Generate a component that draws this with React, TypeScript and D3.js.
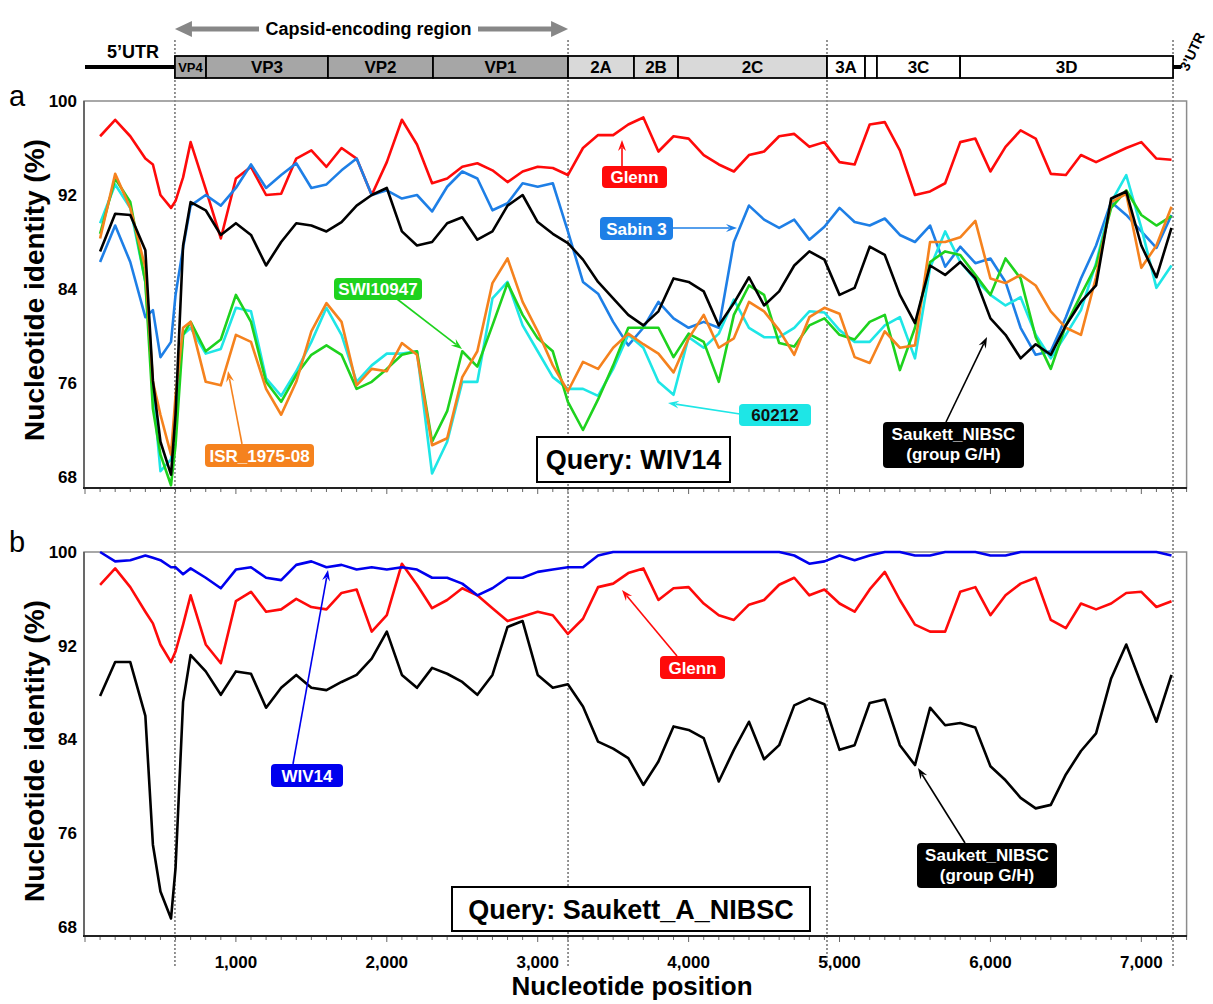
import React from 'react';
import * as d3 from 'd3';

// ---------- DATA ----------
const positions = [100, 200, 300, 400, 450, 500, 570, 600, 650, 700,
  800, 900, 1000, 1100, 1200, 1300, 1400, 1500, 1600, 1700, 1800, 1900, 2000, 2100, 2200, 2300, 2400,
  2500, 2600, 2700, 2800, 2900, 3000, 3100, 3200, 3300, 3400, 3500, 3600, 3700, 3800, 3900, 4000,
  4100, 4200, 4300, 4400, 4500, 4600, 4700, 4800, 4900, 5000, 5100, 5200, 5300, 5400, 5500, 5600,
  5700, 5800, 5900, 6000, 6100, 6200, 6300, 6400, 6500, 6600, 6700, 6800, 6900, 7000, 7100, 7200];

// Panel a (query WIV14)
const glennA = [97.0, 98.4, 97.0, 95.1, 94.6, 92.0, 90.9, 91.5, 93.5, 96.5,
  92.5, 88.3, 93.4, 94.4, 92.0, 92.1, 95.1, 95.8, 94.4, 96.0, 95.1, 92.0, 94.8, 98.4, 96.3, 93.0, 93.4,
  94.4, 94.7, 94.1, 93.1, 94.0, 94.4, 94.3, 93.7, 96.0, 97.1, 97.1, 98.0, 98.6, 95.7, 97.0, 96.8,
  95.4, 94.6, 94.0, 95.4, 95.7, 97.0, 97.2, 96.1, 96.5, 94.8, 94.6, 98.0, 98.2, 95.8, 92.0, 92.3,
  93.0, 96.5, 96.8, 94.0, 96.1, 97.5, 96.8, 93.8, 93.7, 95.4, 94.8, 95.4, 96.0, 96.5, 95.1, 95.0];
const sabin3A = [86.3, 89.4, 86.3, 81.6, 82.2, 78.2, 79.5, 83.5, 87.5, 91.1,
  92.0, 91.1, 92.6, 94.6, 92.6, 93.7, 94.7, 92.6, 92.9, 94.1, 95.1, 92.0, 92.4, 91.7, 92.0, 90.6, 92.7,
  94.0, 93.4, 90.7, 91.3, 93.0, 92.7, 93.0, 88.9, 84.6, 83.6, 81.2, 79.2, 80.7, 82.9, 81.5, 80.7,
  81.2, 80.7, 88.0, 91.1, 89.9, 89.2, 89.9, 88.2, 89.3, 90.9, 89.7, 89.4, 90.0, 88.6, 88.0, 89.4,
  85.9, 87.6, 86.2, 86.6, 84.6, 80.7, 78.4, 78.7, 81.6, 84.9, 87.7, 91.4, 90.3, 88.9, 87.5, 90.3];
const saukettA = [87.2, 90.4, 90.3, 87.3, 76.2, 71.0, 68.2, 73.3, 87.7, 91.4,
  90.7, 88.6, 89.6, 88.6, 86.0, 88.0, 89.6, 89.4, 88.9, 89.7, 91.1, 92.0, 92.6, 88.9, 87.7, 88.0, 89.6,
  90.1, 88.2, 88.9, 91.1, 92.0, 89.7, 88.7, 87.9, 86.5, 84.6, 83.2, 81.8, 80.9, 82.1, 84.9, 84.6,
  83.8, 80.9, 82.8, 85.0, 82.6, 83.8, 86.0, 87.2, 86.5, 83.5, 84.1, 87.6, 86.9, 83.5, 81.1, 86.0,
  85.2, 86.3, 84.9, 81.5, 80.1, 78.1, 79.3, 78.4, 80.9, 82.9, 84.3, 91.7, 92.3, 87.7, 85.0, 89.2];
const swi10947A = [88.7, 93.4, 91.4, 84.6, 73.8, 69.9, 67.3, 70.7, 80.1, 81.2,
  78.7, 79.7, 83.5, 81.2, 76.1, 74.4, 76.7, 78.4, 79.2, 78.4, 75.5, 76.1, 77.2, 78.4, 78.7, 71.0, 73.6,
  78.7, 77.4, 80.9, 84.5, 81.8, 79.8, 78.7, 74.4, 72.0, 74.6, 77.5, 80.7, 80.7, 80.7, 78.2, 80.2,
  79.5, 76.1, 81.8, 84.3, 83.5, 79.4, 79.1, 80.9, 81.5, 80.1, 79.7, 81.2, 81.8, 77.1, 80.7, 86.3,
  87.2, 86.9, 85.2, 83.5, 86.6, 84.9, 79.9, 77.2, 80.9, 83.5, 86.0, 90.9, 92.4, 90.3, 89.4, 90.2];
const isrA = [88.3, 93.8, 90.9, 85.8, 76.1, 73.3, 69.9, 74.9, 80.7, 81.2,
  76.1, 75.8, 80.1, 79.5, 75.5, 73.3, 76.1, 80.4, 82.8, 81.2, 75.8, 77.2, 77.0, 79.4, 78.4, 70.7, 71.3,
  76.5, 78.7, 84.5, 86.6, 82.9, 80.4, 77.5, 75.3, 77.8, 77.2, 79.0, 80.2, 79.3, 78.5, 76.9, 79.8,
  81.8, 79.0, 79.8, 82.9, 82.1, 80.5, 78.4, 81.6, 82.4, 81.9, 78.2, 77.7, 80.4, 79.0, 79.2, 88.0,
  88.0, 88.4, 89.8, 84.9, 84.5, 85.2, 84.3, 82.1, 80.7, 80.1, 85.0, 91.4, 92.1, 85.8, 87.7, 91.0];
const s60212A = [89.6, 92.9, 90.9, 84.6, 75.5, 68.5, 69.5, 73.3, 80.1, 80.7,
  78.5, 78.9, 82.4, 82.1, 76.4, 74.9, 77.0, 79.5, 82.4, 80.1, 76.1, 77.5, 78.5, 78.5, 78.7, 68.3, 71.0,
  76.1, 76.1, 83.2, 84.6, 80.9, 78.7, 76.5, 75.5, 75.5, 74.9, 77.2, 80.1, 79.0, 76.1, 75.0, 79.9,
  79.0, 80.2, 83.1, 80.7, 79.9, 79.9, 80.7, 82.1, 82.0, 80.5, 79.5, 79.5, 80.9, 81.6, 78.1, 85.8,
  88.9, 86.3, 84.8, 83.5, 82.6, 83.3, 80.1, 78.1, 80.1, 82.2, 86.2, 91.4, 93.7, 89.2, 84.1, 86.0];

// Panel b (query Saukett_A_NIBSC)
const wiv14B = [100.0, 99.2, 99.3, 99.7, 99.5, 99.3, 98.7, 98.7, 98.1, 98.6,
  97.8, 96.9, 98.5, 98.7, 97.8, 97.6, 98.9, 99.2, 98.7, 98.9, 98.5, 98.7, 98.5, 98.7, 98.5, 97.8, 97.8,
  97.3, 96.3, 96.9, 97.8, 97.8, 98.3, 98.5, 98.7, 98.7, 99.7, 100, 100, 100, 100, 100, 100,
  100, 100, 100, 100, 100, 100, 99.7, 99.0, 99.2, 99.7, 99.3, 99.7, 100, 100, 99.7, 99.7,
  100, 100, 100, 99.7, 99.7, 100, 100, 100, 100, 100, 100, 100, 100, 100, 100, 99.7];
const glennB = [97.2, 98.6, 97.0, 94.9, 93.9, 92.1, 90.6, 91.5, 93.8, 96.3,
  92.1, 90.5, 95.8, 96.6, 94.9, 95.1, 96.0, 95.3, 95.1, 96.5, 96.8, 93.2, 94.6, 99.0, 97.2, 95.2, 95.9,
  96.9, 96.3, 95.2, 94.1, 94.5, 94.9, 94.6, 93.0, 94.3, 97.0, 97.3, 98.2, 98.6, 95.9, 96.9, 97.0,
  95.6, 94.6, 94.2, 95.5, 95.9, 97.2, 97.8, 96.3, 96.8, 95.6, 94.9, 96.8, 98.3, 95.9, 93.8, 93.2,
  93.2, 96.6, 97.0, 94.6, 96.3, 97.3, 97.8, 94.2, 93.5, 95.6, 95.1, 95.6, 96.5, 96.6, 95.3, 95.8];
const saukettB = [87.7, 90.6, 90.6, 86.0, 75.0, 71.0, 68.7, 73.0, 87.2, 91.2,
  89.8, 87.8, 89.8, 89.6, 86.7, 88.4, 89.5, 88.4, 88.2, 88.9, 89.5, 90.9, 93.2, 89.5, 88.4, 90.1, 89.6,
  88.9, 87.8, 89.5, 93.6, 94.1, 89.5, 88.4, 88.7, 86.8, 83.8, 83.2, 82.4, 80.1, 82.1, 85.1, 84.8,
  84.1, 80.4, 83.1, 85.5, 82.3, 83.5, 86.9, 87.5, 87.0, 83.1, 83.5, 87.1, 87.4, 83.5, 81.8, 86.7,
  85.2, 85.4, 85.0, 81.7, 80.5, 79.0, 78.1, 78.4, 81.0, 83.0, 84.5, 89.2, 92.1, 88.7, 85.5, 89.5];

// Genome map
const regionNames = ['VP4', 'VP3', 'VP2', 'VP1', '2A', '2B', '2C', '3A', '', '3C', '3D'];
const regionBounds = [596, 802, 1610, 2306, 3201, 3638, 3930, 4917, 5169, 5248, 5799, 7210];
const regionGroup = [0, 0, 0, 0, 1, 1, 1, 2, 2, 2, 2];
const dividerPositions = [596, 3201, 4917, 7210];

const yTicks = [68, 76, 84, 92, 100];
const xTickLabels = [1000, 2000, 3000, 4000, 5000, 6000, 7000];

// ---------- LAYOUT ----------
const W = 1213, H = 1004;
const FONT = '"Liberation Sans", Arial, Helvetica, sans-serif';
const x = d3.scaleLinear().domain([0, 7300]).range([85, 1186.6]);
const yA = d3.scaleLinear().domain([67, 100]).range([488.75, 101]);
const yB = d3.scaleLinear().domain([67.2, 100]).range([936, 552]);

const C = {
  red: '#ff0a0a', sabin: '#1e7fe6', black: '#000000', green: '#1ed21e',
  orange: '#f5821e', cyan: '#1ee6e6', wiv: '#0000ee'
};

function mkLine(y: d3.ScaleLinear<number, number>) {
  return d3.line<number>().x((_, i) => x(positions[i])).y((d) => y(d));
}

function Label({ x0, y0, w, h, fill, lines, color = '#fff' }: any) {
  return (
    <g>
      <rect x={x0} y={y0} width={w} height={h} rx={4} fill={fill} />
      {lines.map((t: string, i: number) => (
        <text key={i} x={x0 + w / 2} y={y0 + (lines.length === 1 ? h / 2 + 6 : 17.5 + i * 20)}
          textAnchor="middle" fontFamily={FONT} fontWeight="bold" fontSize={17} fill={color}>{t}</text>
      ))}
    </g>
  );
}

function Arrow({ x1, y1, x2, y2, color }: any) {
  const ang = Math.atan2(y2 - y1, x2 - x1);
  const L = 11, Wd = 4;
  const bx = x2 - L * Math.cos(ang), by = y2 - L * Math.sin(ang);
  const px = -Math.sin(ang) * Wd, py = Math.cos(ang) * Wd;
  return (
    <g>
      <line x1={x1} y1={y1} x2={bx + L * 0.3 * Math.cos(ang)} y2={by + L * 0.3 * Math.sin(ang)} stroke={color} strokeWidth={1.6} />
      <path d={`M${x2},${y2} L${bx + px},${by + py} L${bx + 0.35 * L * Math.cos(ang)},${by + 0.35 * L * Math.sin(ang)} L${bx - px},${by - py} Z`} fill={color} />
    </g>
  );
}

function Panel({ y, top, bottom, series, showLabels }: any) {
  const line = mkLine(y);
  const minor = d3.range(0, 7301, 100);
  return (
    <g>
      <rect x={84} y={top} width={1186.6 - 84} height={bottom - top} fill="none" stroke="#8c8c8c" strokeWidth={1.5} />
      {series.map((s: any, i: number) => (
        <path key={i} d={line(s.values) || ''} fill="none" stroke={s.color} strokeWidth={2.6} strokeLinejoin="round" />
      ))}
      <line x1={84} x2={84} y1={top} y2={bottom} stroke="#555" strokeWidth={1.5} />
      <line x1={83} x2={1187} y1={bottom} y2={bottom} stroke="#222" strokeWidth={2} />
      {minor.map((v) => (
        <line key={v} x1={x(v)} x2={x(v)} y1={bottom + 1} y2={bottom + (v % 1000 === 0 ? 6 : 4)} stroke="#666" strokeWidth={1} />
      ))}
      {yTicks.map((t) => (
        <text key={t} x={77} y={y(t) + 6} textAnchor="end" fontFamily={FONT} fontWeight="bold" fontSize={17} fill="#000">{t}</text>
      ))}
      {showLabels && xTickLabels.map((t) => (
        <text key={t} x={x(t)} y={968} textAnchor="middle" fontFamily={FONT} fontWeight="bold" fontSize={17} fill="#000">{d3.format(',')(t)}</text>
      ))}
    </g>
  );
}

export default function App() {
  const regionFill = ['#a6a6a6', '#d9d9d9', '#ffffff'];
  const barTop = 56, barH = 22;
  return (
    <svg width={W} height={H} viewBox={`0 0 ${W} ${H}`} style={{ position: 'absolute', left: 0, top: 0, background: '#fff' }}>
      <rect x={0} y={0} width={W} height={H} fill="#fff" />

      {/* dotted region dividers */}
      {dividerPositions.map((p) => (
        <line key={p} x1={x(p)} x2={x(p)} y1={40} y2={966} stroke="#7a7a7a" strokeWidth={1.6} strokeDasharray="2,2" />
      ))}

      {/* capsid arrow */}
      <line x1={x(596) + 14} x2={x(3201) - 14} y1={29} y2={29} stroke="#878787" strokeWidth={5} />
      <path d={`M${x(596)},29 L${x(596) + 17},21 L${x(596) + 17},37 Z`} fill="#878787" />
      <path d={`M${x(3201)},29 L${x(3201) - 17},21 L${x(3201) - 17},37 Z`} fill="#878787" />
      <rect x={259} y={17} width={219} height={24} fill="#fff" />
      <text x={368.5} y={35} textAnchor="middle" fontFamily={FONT} fontWeight="bold" fontSize={18}>Capsid-encoding region</text>

      {/* genome map */}
      <line x1={85} x2={x(596)} y1={barTop + barH / 2} y2={barTop + barH / 2} stroke="#000" strokeWidth={4} />
      <text x={133} y={58} textAnchor="middle" fontFamily={FONT} fontWeight="bold" fontSize={18}>5’UTR</text>
      {regionNames.map((n, i) => {
        const x0 = x(regionBounds[i]), x1 = x(regionBounds[i + 1]);
        return (
          <g key={i}>
            <rect x={x0} y={barTop} width={x1 - x0} height={barH} fill={regionFill[regionGroup[i]]} stroke="#000" strokeWidth={1.8} />
            {n && <text x={(x0 + x1) / 2} y={barTop + barH / 2 + (n === 'VP4' ? 5 : 6)} textAnchor="middle" fontFamily={FONT} fontWeight="bold" fontSize={n === 'VP4' ? 13 : 17}>{n}</text>}
          </g>
        );
      })}
      <line x1={x(7210)} x2={x(7210) + 8} y1={barTop + barH / 2} y2={barTop + barH / 2} stroke="#000" strokeWidth={4} />
      <text transform={`translate(1188,72) rotate(-65)`} fontFamily={FONT} fontWeight="bold" fontSize={14}>3’UTR</text>

      {/* panel letters */}
      <text x={9} y={106} fontFamily={FONT} fontSize={29}>a</text>
      <text x={9} y={552} fontFamily={FONT} fontSize={29}>b</text>

      {/* axis titles */}
      <text transform="translate(44,290) rotate(-90)" textAnchor="middle" fontFamily={FONT} fontWeight="bold" fontSize={28}>Nucleotide identity (%)</text>
      <text transform="translate(44,751) rotate(-90)" textAnchor="middle" fontFamily={FONT} fontWeight="bold" fontSize={28}>Nucleotide identity (%)</text>
      <text x={632} y={995} textAnchor="middle" fontFamily={FONT} fontWeight="bold" fontSize={26}>Nucleotide position</text>

      <Panel y={yA} top={101} bottom={488} showLabels={false} series={[
        { values: glennA, color: C.red },
        { values: sabin3A, color: C.sabin },
        { values: s60212A, color: C.cyan },
        { values: swi10947A, color: C.green },
        { values: isrA, color: C.orange },
        { values: saukettA, color: C.black },
      ]} />
      <Panel y={yB} top={552} bottom={936} showLabels={true} series={[
        { values: saukettB, color: C.black },
        { values: glennB, color: C.red },
        { values: wiv14B, color: C.wiv },
      ]} />

      {/* panel a annotations */}
      <Arrow x1={622} y1={166} x2={622} y2={140} color={C.red} />
      <Label x0={602} y0={166} w={65} h={22} fill={C.red} lines={['Glenn']} />
      <Arrow x1={673} y1={228} x2={737} y2={228} color={C.sabin} />
      <Label x0={600} y0={217} w={73} h={23} fill={C.sabin} lines={['Sabin 3']} />
      <Arrow x1={397} y1={299} x2={462} y2={349} color={C.green} />
      <Label x0={334} y0={278} w={88} h={22} fill={C.green} lines={['SWI10947']} />
      <Arrow x1={242} y1={444} x2={228} y2={371} color={C.orange} />
      <Label x0={205} y0={444} w={109} h={23} fill={C.orange} lines={['ISR_1975-08']} />
      <Arrow x1={740} y1={414} x2={668} y2={403} color={C.cyan} />
      <Label x0={739} y0={404} w={72} h={22} fill={C.cyan} lines={['60212']} color="#111" />
      <Arrow x1={946} y1={422} x2={987} y2={337} color="#000" />
      <Label x0={883} y0={422} w={141} h={46} fill="#000" lines={['Saukett_NIBSC', '(group G/H)']} />
      <rect x={537} y={437} width={193} height={45} fill="#fff" stroke="#000" strokeWidth={2} />
      <text x={633.5} y={469} textAnchor="middle" fontFamily={FONT} fontWeight="bold" fontSize={27}>Query: WIV14</text>

      {/* panel b annotations */}
      <Arrow x1={293} y1={764} x2={328} y2={570} color={C.wiv} />
      <Label x0={271} y0={764} w={72} h={23} fill={C.wiv} lines={['WIV14']} />
      <Arrow x1={677} y1={656} x2={622} y2={590} color={C.red} />
      <Label x0={660} y0={656} w={65} h={23} fill={C.red} lines={['Glenn']} />
      <Arrow x1={965} y1={843} x2={918} y2={768} color="#000" />
      <Label x0={917} y0={843} w={140} h={45} fill="#000" lines={['Saukett_NIBSC', '(group G/H)']} />
      <rect x={452} y={887} width={358} height={44} fill="#fff" stroke="#000" strokeWidth={2} />
      <text x={631} y={919} textAnchor="middle" fontFamily={FONT} fontWeight="bold" fontSize={27}>Query: Saukett_A_NIBSC</text>
    </svg>
  );
}
